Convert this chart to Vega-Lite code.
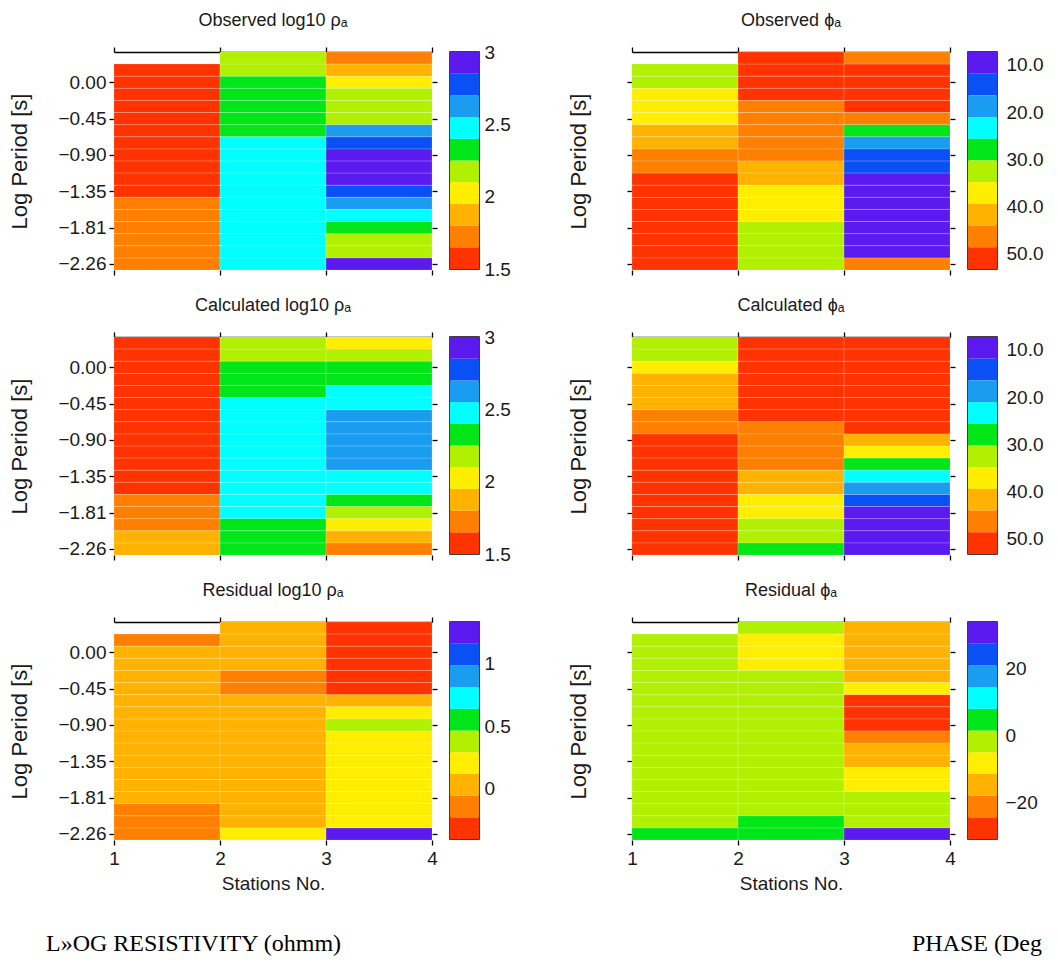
{
"$schema":"https://vega.github.io/schema/vega-lite/v6.json",
"autosize":{"type":"pad"},
"padding":{"left":8,"top":12,"right":5,"bottom":5},
"background":"white",
"config":{"view":{"stroke":null},"font":"Liberation Sans",
"axis":{"labelFont":"Liberation Sans","titleFont":"Liberation Sans","labelFontSize":19,"titleFontSize":19,"titleFontWeight":"normal","labelColor":"#1a1a1a","titleColor":"#1a1a1a","tickColor":"#000","tickWidth":1.3,"domainColor":"#000","grid":false,"labelFlush":false,"labelOverlap":false},
"axisLeft":{"titleFontSize":22},
"title":{"font":"Liberation Sans","fontSize":18,"fontWeight":"normal","color":"#1a1a1a"}},
"resolve":{"scale":{"color":"independent"}},
"datasets":{
"periods":[{"t":0.301,"lo":0.2258,"hi":0.3763},{"t":0.151,"lo":0.0753,"hi":0.2258},{"t":0,"lo":-0.0753,"hi":0.0753},{"t":-0.151,"lo":-0.2258,"hi":-0.0753},{"t":-0.301,"lo":-0.3763,"hi":-0.2258},{"t":-0.452,"lo":-0.5268,"hi":-0.3763},{"t":-0.602,"lo":-0.6773,"hi":-0.5268},{"t":-0.753,"lo":-0.8278,"hi":-0.6773},{"t":-0.903,"lo":-0.9784,"hi":-0.8278},{"t":-1.054,"lo":-1.1289,"hi":-0.9784},{"t":-1.204,"lo":-1.2794,"hi":-1.1289},{"t":-1.355,"lo":-1.4299,"hi":-1.2794},{"t":-1.505,"lo":-1.5804,"hi":-1.4299},{"t":-1.656,"lo":-1.7309,"hi":-1.5804},{"t":-1.806,"lo":-1.8815,"hi":-1.7309},{"t":-1.957,"lo":-2.032,"hi":-1.8815},{"t":-2.107,"lo":-2.1825,"hi":-2.032},{"t":-2.258,"lo":-2.333,"hi":-2.1825}],
"stations":[{"s":1,"e":2},{"s":2,"e":3},{"s":3,"e":4}],
"obsRho":[
{"s":1,"t":0.151,"v":1.57},{"s":1,"t":0,"v":1.57},{"s":1,"t":-0.151,"v":1.57},{"s":1,"t":-0.301,"v":1.57},{"s":1,"t":-0.452,"v":1.57},{"s":1,"t":-0.602,"v":1.57},{"s":1,"t":-0.753,"v":1.57},{"s":1,"t":-0.903,"v":1.57},{"s":1,"t":-1.054,"v":1.57},{"s":1,"t":-1.204,"v":1.57},{"s":1,"t":-1.355,"v":1.57},{"s":1,"t":-1.505,"v":1.72},{"s":1,"t":-1.656,"v":1.72},{"s":1,"t":-1.806,"v":1.72},{"s":1,"t":-1.957,"v":1.72},{"s":1,"t":-2.107,"v":1.72},{"s":1,"t":-2.258,"v":1.72},
{"s":2,"t":0.301,"v":2.17},{"s":2,"t":0.151,"v":2.17},{"s":2,"t":0,"v":2.32},{"s":2,"t":-0.151,"v":2.32},{"s":2,"t":-0.301,"v":2.32},{"s":2,"t":-0.452,"v":2.32},{"s":2,"t":-0.602,"v":2.32},{"s":2,"t":-0.753,"v":2.47},{"s":2,"t":-0.903,"v":2.47},{"s":2,"t":-1.054,"v":2.47},{"s":2,"t":-1.204,"v":2.47},{"s":2,"t":-1.355,"v":2.47},{"s":2,"t":-1.505,"v":2.47},{"s":2,"t":-1.656,"v":2.47},{"s":2,"t":-1.806,"v":2.47},{"s":2,"t":-1.957,"v":2.47},{"s":2,"t":-2.107,"v":2.47},{"s":2,"t":-2.258,"v":2.47},
{"s":3,"t":0.301,"v":1.72},{"s":3,"t":0.151,"v":1.87},{"s":3,"t":0,"v":2.02},{"s":3,"t":-0.151,"v":2.17},{"s":3,"t":-0.301,"v":2.17},{"s":3,"t":-0.452,"v":2.17},{"s":3,"t":-0.602,"v":2.62},{"s":3,"t":-0.753,"v":2.77},{"s":3,"t":-0.903,"v":2.92},{"s":3,"t":-1.054,"v":2.92},{"s":3,"t":-1.204,"v":2.92},{"s":3,"t":-1.355,"v":2.77},{"s":3,"t":-1.505,"v":2.62},{"s":3,"t":-1.656,"v":2.47},{"s":3,"t":-1.806,"v":2.32},{"s":3,"t":-1.957,"v":2.17},{"s":3,"t":-2.107,"v":2.17},{"s":3,"t":-2.258,"v":2.92}],
"obsPhi":[
{"s":1,"t":0.151,"v":32.5},{"s":1,"t":0,"v":32.5},{"s":1,"t":-0.151,"v":37.1},{"s":1,"t":-0.301,"v":37.1},{"s":1,"t":-0.452,"v":37.1},{"s":1,"t":-0.602,"v":41.7},{"s":1,"t":-0.753,"v":41.7},{"s":1,"t":-0.903,"v":46.3},{"s":1,"t":-1.054,"v":46.3},{"s":1,"t":-1.204,"v":50.9},{"s":1,"t":-1.355,"v":50.9},{"s":1,"t":-1.505,"v":50.9},{"s":1,"t":-1.656,"v":50.9},{"s":1,"t":-1.806,"v":50.9},{"s":1,"t":-1.957,"v":50.9},{"s":1,"t":-2.107,"v":50.9},{"s":1,"t":-2.258,"v":50.9},
{"s":2,"t":0.301,"v":50.9},{"s":2,"t":0.151,"v":50.9},{"s":2,"t":0,"v":50.9},{"s":2,"t":-0.151,"v":50.9},{"s":2,"t":-0.301,"v":46.3},{"s":2,"t":-0.452,"v":46.3},{"s":2,"t":-0.602,"v":46.3},{"s":2,"t":-0.753,"v":46.3},{"s":2,"t":-0.903,"v":46.3},{"s":2,"t":-1.054,"v":41.7},{"s":2,"t":-1.204,"v":41.7},{"s":2,"t":-1.355,"v":37.1},{"s":2,"t":-1.505,"v":37.1},{"s":2,"t":-1.656,"v":37.1},{"s":2,"t":-1.806,"v":32.5},{"s":2,"t":-1.957,"v":32.5},{"s":2,"t":-2.107,"v":32.5},{"s":2,"t":-2.258,"v":32.5},
{"s":3,"t":0.301,"v":46.3},{"s":3,"t":0.151,"v":50.9},{"s":3,"t":0,"v":50.9},{"s":3,"t":-0.151,"v":50.9},{"s":3,"t":-0.301,"v":50.9},{"s":3,"t":-0.452,"v":46.3},{"s":3,"t":-0.602,"v":27.9},{"s":3,"t":-0.753,"v":18.8},{"s":3,"t":-0.903,"v":14.2},{"s":3,"t":-1.054,"v":14.2},{"s":3,"t":-1.204,"v":9.6},{"s":3,"t":-1.355,"v":9.6},{"s":3,"t":-1.505,"v":9.6},{"s":3,"t":-1.656,"v":9.6},{"s":3,"t":-1.806,"v":9.6},{"s":3,"t":-1.957,"v":9.6},{"s":3,"t":-2.107,"v":9.6},{"s":3,"t":-2.258,"v":46.3}],
"calRho":[
{"s":1,"t":0.301,"v":1.57},{"s":1,"t":0.151,"v":1.57},{"s":1,"t":0,"v":1.57},{"s":1,"t":-0.151,"v":1.57},{"s":1,"t":-0.301,"v":1.57},{"s":1,"t":-0.452,"v":1.57},{"s":1,"t":-0.602,"v":1.57},{"s":1,"t":-0.753,"v":1.57},{"s":1,"t":-0.903,"v":1.57},{"s":1,"t":-1.054,"v":1.57},{"s":1,"t":-1.204,"v":1.57},{"s":1,"t":-1.355,"v":1.57},{"s":1,"t":-1.505,"v":1.57},{"s":1,"t":-1.656,"v":1.72},{"s":1,"t":-1.806,"v":1.72},{"s":1,"t":-1.957,"v":1.72},{"s":1,"t":-2.107,"v":1.87},{"s":1,"t":-2.258,"v":1.87},
{"s":2,"t":0.301,"v":2.17},{"s":2,"t":0.151,"v":2.17},{"s":2,"t":0,"v":2.32},{"s":2,"t":-0.151,"v":2.32},{"s":2,"t":-0.301,"v":2.32},{"s":2,"t":-0.452,"v":2.47},{"s":2,"t":-0.602,"v":2.47},{"s":2,"t":-0.753,"v":2.47},{"s":2,"t":-0.903,"v":2.47},{"s":2,"t":-1.054,"v":2.47},{"s":2,"t":-1.204,"v":2.47},{"s":2,"t":-1.355,"v":2.47},{"s":2,"t":-1.505,"v":2.47},{"s":2,"t":-1.656,"v":2.47},{"s":2,"t":-1.806,"v":2.47},{"s":2,"t":-1.957,"v":2.32},{"s":2,"t":-2.107,"v":2.32},{"s":2,"t":-2.258,"v":2.32},
{"s":3,"t":0.301,"v":2.02},{"s":3,"t":0.151,"v":2.17},{"s":3,"t":0,"v":2.32},{"s":3,"t":-0.151,"v":2.32},{"s":3,"t":-0.301,"v":2.47},{"s":3,"t":-0.452,"v":2.47},{"s":3,"t":-0.602,"v":2.62},{"s":3,"t":-0.753,"v":2.62},{"s":3,"t":-0.903,"v":2.62},{"s":3,"t":-1.054,"v":2.62},{"s":3,"t":-1.204,"v":2.62},{"s":3,"t":-1.355,"v":2.47},{"s":3,"t":-1.505,"v":2.47},{"s":3,"t":-1.656,"v":2.32},{"s":3,"t":-1.806,"v":2.17},{"s":3,"t":-1.957,"v":2.02},{"s":3,"t":-2.107,"v":1.87},{"s":3,"t":-2.258,"v":1.72}],
"calPhi":[
{"s":1,"t":0.301,"v":32.5},{"s":1,"t":0.151,"v":32.5},{"s":1,"t":0,"v":37.1},{"s":1,"t":-0.151,"v":41.7},{"s":1,"t":-0.301,"v":41.7},{"s":1,"t":-0.452,"v":41.7},{"s":1,"t":-0.602,"v":46.3},{"s":1,"t":-0.753,"v":46.3},{"s":1,"t":-0.903,"v":50.9},{"s":1,"t":-1.054,"v":50.9},{"s":1,"t":-1.204,"v":50.9},{"s":1,"t":-1.355,"v":50.9},{"s":1,"t":-1.505,"v":50.9},{"s":1,"t":-1.656,"v":50.9},{"s":1,"t":-1.806,"v":50.9},{"s":1,"t":-1.957,"v":50.9},{"s":1,"t":-2.107,"v":50.9},{"s":1,"t":-2.258,"v":50.9},
{"s":2,"t":0.301,"v":50.9},{"s":2,"t":0.151,"v":50.9},{"s":2,"t":0,"v":50.9},{"s":2,"t":-0.151,"v":50.9},{"s":2,"t":-0.301,"v":50.9},{"s":2,"t":-0.452,"v":50.9},{"s":2,"t":-0.602,"v":50.9},{"s":2,"t":-0.753,"v":46.3},{"s":2,"t":-0.903,"v":46.3},{"s":2,"t":-1.054,"v":46.3},{"s":2,"t":-1.204,"v":46.3},{"s":2,"t":-1.355,"v":41.7},{"s":2,"t":-1.505,"v":41.7},{"s":2,"t":-1.656,"v":37.1},{"s":2,"t":-1.806,"v":37.1},{"s":2,"t":-1.957,"v":32.5},{"s":2,"t":-2.107,"v":32.5},{"s":2,"t":-2.258,"v":27.9},
{"s":3,"t":0.301,"v":50.9},{"s":3,"t":0.151,"v":50.9},{"s":3,"t":0,"v":50.9},{"s":3,"t":-0.151,"v":50.9},{"s":3,"t":-0.301,"v":50.9},{"s":3,"t":-0.452,"v":50.9},{"s":3,"t":-0.602,"v":50.9},{"s":3,"t":-0.753,"v":50.9},{"s":3,"t":-0.903,"v":41.7},{"s":3,"t":-1.054,"v":37.1},{"s":3,"t":-1.204,"v":27.9},{"s":3,"t":-1.355,"v":23.4},{"s":3,"t":-1.505,"v":18.8},{"s":3,"t":-1.656,"v":14.2},{"s":3,"t":-1.806,"v":9.6},{"s":3,"t":-1.957,"v":9.6},{"s":3,"t":-2.107,"v":9.6},{"s":3,"t":-2.258,"v":9.6}],
"resRho":[
{"s":1,"t":0.151,"v":-0.14},{"s":1,"t":0,"v":0.03},{"s":1,"t":-0.151,"v":0.03},{"s":1,"t":-0.301,"v":0.03},{"s":1,"t":-0.452,"v":0.03},{"s":1,"t":-0.602,"v":0.03},{"s":1,"t":-0.753,"v":0.03},{"s":1,"t":-0.903,"v":0.03},{"s":1,"t":-1.054,"v":0.03},{"s":1,"t":-1.204,"v":0.03},{"s":1,"t":-1.355,"v":0.03},{"s":1,"t":-1.505,"v":0.03},{"s":1,"t":-1.656,"v":0.03},{"s":1,"t":-1.806,"v":0.03},{"s":1,"t":-1.957,"v":-0.14},{"s":1,"t":-2.107,"v":-0.14},{"s":1,"t":-2.258,"v":-0.14},
{"s":2,"t":0.301,"v":0.03},{"s":2,"t":0.151,"v":0.03},{"s":2,"t":0,"v":0.03},{"s":2,"t":-0.151,"v":0.03},{"s":2,"t":-0.301,"v":-0.14},{"s":2,"t":-0.452,"v":-0.14},{"s":2,"t":-0.602,"v":0.03},{"s":2,"t":-0.753,"v":0.03},{"s":2,"t":-0.903,"v":0.03},{"s":2,"t":-1.054,"v":0.03},{"s":2,"t":-1.204,"v":0.03},{"s":2,"t":-1.355,"v":0.03},{"s":2,"t":-1.505,"v":0.03},{"s":2,"t":-1.656,"v":0.03},{"s":2,"t":-1.806,"v":0.03},{"s":2,"t":-1.957,"v":0.03},{"s":2,"t":-2.107,"v":0.03},{"s":2,"t":-2.258,"v":0.21},
{"s":3,"t":0.301,"v":-0.31},{"s":3,"t":0.151,"v":-0.31},{"s":3,"t":0,"v":-0.31},{"s":3,"t":-0.151,"v":-0.31},{"s":3,"t":-0.301,"v":-0.31},{"s":3,"t":-0.452,"v":-0.31},{"s":3,"t":-0.602,"v":0.03},{"s":3,"t":-0.753,"v":0.21},{"s":3,"t":-0.903,"v":0.38},{"s":3,"t":-1.054,"v":0.21},{"s":3,"t":-1.204,"v":0.21},{"s":3,"t":-1.355,"v":0.21},{"s":3,"t":-1.505,"v":0.21},{"s":3,"t":-1.656,"v":0.21},{"s":3,"t":-1.806,"v":0.21},{"s":3,"t":-1.957,"v":0.21},{"s":3,"t":-2.107,"v":0.21},{"s":3,"t":-2.258,"v":1.24}],
"resPhi":[
{"s":1,"t":0.151,"v":-1.8},{"s":1,"t":0,"v":-1.8},{"s":1,"t":-0.151,"v":-1.8},{"s":1,"t":-0.301,"v":-1.8},{"s":1,"t":-0.452,"v":-1.8},{"s":1,"t":-0.602,"v":-1.8},{"s":1,"t":-0.753,"v":-1.8},{"s":1,"t":-0.903,"v":-1.8},{"s":1,"t":-1.054,"v":-1.8},{"s":1,"t":-1.204,"v":-1.8},{"s":1,"t":-1.355,"v":-1.8},{"s":1,"t":-1.505,"v":-1.8},{"s":1,"t":-1.656,"v":-1.8},{"s":1,"t":-1.806,"v":-1.8},{"s":1,"t":-1.957,"v":-1.8},{"s":1,"t":-2.107,"v":-1.8},{"s":1,"t":-2.258,"v":4.8},
{"s":2,"t":0.301,"v":-1.8},{"s":2,"t":0.151,"v":-8.2},{"s":2,"t":0,"v":-8.2},{"s":2,"t":-0.151,"v":-8.2},{"s":2,"t":-0.301,"v":-1.8},{"s":2,"t":-0.452,"v":-1.8},{"s":2,"t":-0.602,"v":-1.8},{"s":2,"t":-0.753,"v":-1.8},{"s":2,"t":-0.903,"v":-1.8},{"s":2,"t":-1.054,"v":-1.8},{"s":2,"t":-1.204,"v":-1.8},{"s":2,"t":-1.355,"v":-1.8},{"s":2,"t":-1.505,"v":-1.8},{"s":2,"t":-1.656,"v":-1.8},{"s":2,"t":-1.806,"v":-1.8},{"s":2,"t":-1.957,"v":-1.8},{"s":2,"t":-2.107,"v":4.8},{"s":2,"t":-2.258,"v":4.8},
{"s":3,"t":0.301,"v":-14.8},{"s":3,"t":0.151,"v":-14.8},{"s":3,"t":0,"v":-14.8},{"s":3,"t":-0.151,"v":-14.8},{"s":3,"t":-0.301,"v":-14.8},{"s":3,"t":-0.452,"v":-8.2},{"s":3,"t":-0.602,"v":-27.8},{"s":3,"t":-0.753,"v":-27.8},{"s":3,"t":-0.903,"v":-27.8},{"s":3,"t":-1.054,"v":-21.2},{"s":3,"t":-1.204,"v":-14.8},{"s":3,"t":-1.355,"v":-14.8},{"s":3,"t":-1.505,"v":-8.2},{"s":3,"t":-1.656,"v":-8.2},{"s":3,"t":-1.806,"v":-1.8},{"s":3,"t":-1.957,"v":-1.8},{"s":3,"t":-2.107,"v":-1.8},{"s":3,"t":-2.258,"v":30.8}],
"cbRho":[{"lo":1.5,"hi":1.65,"v":1.57},{"lo":1.65,"hi":1.8,"v":1.72},{"lo":1.8,"hi":1.95,"v":1.87},{"lo":1.95,"hi":2.1,"v":2.02},{"lo":2.1,"hi":2.25,"v":2.17},{"lo":2.25,"hi":2.4,"v":2.32},{"lo":2.4,"hi":2.55,"v":2.47},{"lo":2.55,"hi":2.7,"v":2.62},{"lo":2.7,"hi":2.85,"v":2.77},{"lo":2.85,"hi":3,"v":2.92}],
"cbPhi":[{"lo":7.3,"hi":11.89,"v":9.6},{"lo":11.89,"hi":16.48,"v":14.2},{"lo":16.48,"hi":21.07,"v":18.8},{"lo":21.07,"hi":25.66,"v":23.4},{"lo":25.66,"hi":30.25,"v":27.9},{"lo":30.25,"hi":34.84,"v":32.5},{"lo":34.84,"hi":39.43,"v":37.1},{"lo":39.43,"hi":44.02,"v":41.7},{"lo":44.02,"hi":48.61,"v":46.3},{"lo":48.61,"hi":53.2,"v":50.9}],
"cbResRho":[{"lo":-0.4,"hi":-0.227,"v":-0.31},{"lo":-0.227,"hi":-0.054,"v":-0.14},{"lo":-0.054,"hi":0.119,"v":0.03},{"lo":0.119,"hi":0.292,"v":0.21},{"lo":0.292,"hi":0.465,"v":0.38},{"lo":0.465,"hi":0.638,"v":0.55},{"lo":0.638,"hi":0.811,"v":0.72},{"lo":0.811,"hi":0.984,"v":0.9},{"lo":0.984,"hi":1.157,"v":1.07},{"lo":1.157,"hi":1.33,"v":1.24}],
"cbResPhi":[{"lo":-31,"hi":-24.5,"v":-27.8},{"lo":-24.5,"hi":-18,"v":-21.2},{"lo":-18,"hi":-11.5,"v":-14.8},{"lo":-11.5,"hi":-5,"v":-8.2},{"lo":-5,"hi":1.5,"v":-1.8},{"lo":1.5,"hi":8,"v":4.8},{"lo":8,"hi":14.5,"v":11.3},{"lo":14.5,"hi":21,"v":17.8},{"lo":21,"hi":27.5,"v":24.3},{"lo":27.5,"hi":34,"v":30.8}]
},
"columns":5,
"spacing":{"row":67,"column":18},
"bounds":"flush",
"concat":[
{"width":318,"height":218,"title":{"text":"Observed log10 ρₐ","anchor":"middle","frame":"group","offset":16},
"data":{"name":"obsRho"},
"transform":[{"lookup":"t","from":{"data":{"name":"periods"},"key":"t","fields":["lo","hi"]}},{"lookup":"s","from":{"data":{"name":"stations"},"key":"s","fields":["e"]}}],
"layer":[
{"mark":{"type":"rect"},"encoding":{
"x":{"field":"s","type":"quantitative","scale":{"domain":[1,4],"nice":false,"zero":false},"axis":{"orient":"bottom","values":[1,2,3,4],"tickSize":5,"domain":false,"labels":false,"title":null}},
"x2":{"field":"e"},
"y":{"field":"lo","type":"quantitative","scale":{"domain":[-2.333,0.3763],"nice":false,"zero":false},"axis":{"orient":"left","values":[0,-0.45154,-0.90309,-1.35463,-1.80618,-2.25772],"format":".2f","tickSize":5,"domain":false,"labelPadding":3,"title":"Log Period [s]","titlePadding":26}},
"y2":{"field":"hi"},
"color":{"field":"v","type":"quantitative","scale":{"type":"quantize","domain":[1.5,3],"range":["#ff3300","#ff8000","#ffb300","#ffee00","#b0f000","#00e619","#00ffff","#1a9cf0","#0a50f5","#5a1af0"]},"legend":null}}},
{"mark":{"type":"rect","fill":"white","fillOpacity":0,"stroke":"white","strokeOpacity":0.18,"strokeWidth":0.8},"encoding":{
"x":{"field":"s","type":"quantitative","axis":{"orient":"top","values":[1,2,3,4],"tickSize":5,"labels":false,"title":null,"domain":true,"domainWidth":1.5}},
"x2":{"field":"e"},
"y":{"field":"lo","type":"quantitative","axis":{"orient":"right","values":[0,-0.45154,-0.90309,-1.35463,-1.80618,-2.25772],"tickSize":5,"labels":false,"title":null,"domain":false}},
"y2":{"field":"hi"}}}],
"resolve":{"axis":{"x":"independent","y":"independent"}}},
{"width":29,"height":217,"view":{"stroke":"#000","strokeWidth":1.5},"data":{"name":"cbRho"},"mark":{"type":"rect"},"encoding":{
"y":{"field":"lo","type":"quantitative","scale":{"domain":[1.5,3],"nice":false,"zero":false},"axis":{"orient":"right","values":[1.5,2,2.5,3],"format":"~g","ticks":false,"domain":false,"labelPadding":5,"title":null}},
"y2":{"field":"hi"},
"color":{"field":"v","type":"quantitative","scale":{"type":"quantize","domain":[1.5,3],"range":["#ff3300","#ff8000","#ffb300","#ffee00","#b0f000","#00e619","#00ffff","#1a9cf0","#0a50f5","#5a1af0"]},"legend":null}}},
{"width":117,"height":1,"data":{"values":[]},"mark":"point","encoding":{}},
{"width":318,"height":218,"title":{"text":"Observed ϕₐ","anchor":"middle","frame":"group","offset":16},
"data":{"name":"obsPhi"},
"transform":[{"lookup":"t","from":{"data":{"name":"periods"},"key":"t","fields":["lo","hi"]}},{"lookup":"s","from":{"data":{"name":"stations"},"key":"s","fields":["e"]}}],
"layer":[
{"mark":{"type":"rect"},"encoding":{
"x":{"field":"s","type":"quantitative","scale":{"domain":[1,4],"nice":false,"zero":false},"axis":{"orient":"bottom","values":[1,2,3,4],"tickSize":5,"domain":false,"labels":false,"title":null}},
"x2":{"field":"e"},
"y":{"field":"lo","type":"quantitative","scale":{"domain":[-2.333,0.3763],"nice":false,"zero":false},"axis":{"orient":"left","values":[0,-0.45154,-0.90309,-1.35463,-1.80618,-2.25772],"tickSize":5,"domain":false,"labels":false,"title":"Log Period [s]","titlePadding":36}},
"y2":{"field":"hi"},
"color":{"field":"v","type":"quantitative","scale":{"type":"quantize","domain":[7.3,53.2],"range":["#5a1af0","#0a50f5","#1a9cf0","#00ffff","#00e619","#b0f000","#ffee00","#ffb300","#ff8000","#ff3300"]},"legend":null}}},
{"mark":{"type":"rect","fill":"white","fillOpacity":0,"stroke":"white","strokeOpacity":0.18,"strokeWidth":0.8},"encoding":{
"x":{"field":"s","type":"quantitative","axis":{"orient":"top","values":[1,2,3,4],"tickSize":5,"labels":false,"title":null,"domain":true,"domainWidth":1.5}},
"x2":{"field":"e"},
"y":{"field":"lo","type":"quantitative","axis":{"orient":"right","values":[0,-0.45154,-0.90309,-1.35463,-1.80618,-2.25772],"tickSize":5,"labels":false,"title":null,"domain":false}},
"y2":{"field":"hi"}}}],
"resolve":{"axis":{"x":"independent","y":"independent"}}},
{"width":29,"height":217,"view":{"stroke":"#000","strokeWidth":1.5},"data":{"name":"cbPhi"},"mark":{"type":"rect"},"encoding":{
"y":{"field":"lo","type":"quantitative","scale":{"domain":[7.3,53.2],"nice":false,"zero":false,"reverse":true},"axis":{"orient":"right","values":[10,20,30,40,50],"format":".1f","ticks":false,"domain":false,"labelPadding":9,"title":null}},
"y2":{"field":"hi"},
"color":{"field":"v","type":"quantitative","scale":{"type":"quantize","domain":[7.3,53.2],"range":["#5a1af0","#0a50f5","#1a9cf0","#00ffff","#00e619","#b0f000","#ffee00","#ffb300","#ff8000","#ff3300"]},"legend":null}}},

{"width":318,"height":218,"title":{"text":"Calculated log10 ρₐ","anchor":"middle","frame":"group","offset":16},
"data":{"name":"calRho"},
"transform":[{"lookup":"t","from":{"data":{"name":"periods"},"key":"t","fields":["lo","hi"]}},{"lookup":"s","from":{"data":{"name":"stations"},"key":"s","fields":["e"]}}],
"layer":[
{"mark":{"type":"rect"},"encoding":{
"x":{"field":"s","type":"quantitative","scale":{"domain":[1,4],"nice":false,"zero":false},"axis":{"orient":"bottom","values":[1,2,3,4],"tickSize":5,"domain":false,"labels":false,"title":null}},
"x2":{"field":"e"},
"y":{"field":"lo","type":"quantitative","scale":{"domain":[-2.333,0.3763],"nice":false,"zero":false},"axis":{"orient":"left","values":[0,-0.45154,-0.90309,-1.35463,-1.80618,-2.25772],"format":".2f","tickSize":5,"domain":false,"labelPadding":3,"title":"Log Period [s]","titlePadding":26}},
"y2":{"field":"hi"},
"color":{"field":"v","type":"quantitative","scale":{"type":"quantize","domain":[1.5,3],"range":["#ff3300","#ff8000","#ffb300","#ffee00","#b0f000","#00e619","#00ffff","#1a9cf0","#0a50f5","#5a1af0"]},"legend":null}}},
{"mark":{"type":"rect","fill":"white","fillOpacity":0,"stroke":"white","strokeOpacity":0.18,"strokeWidth":0.8},"encoding":{
"x":{"field":"s","type":"quantitative","axis":{"orient":"top","values":[1,2,3,4],"tickSize":5,"labels":false,"title":null,"domain":true,"domainWidth":1.5}},
"x2":{"field":"e"},
"y":{"field":"lo","type":"quantitative","axis":{"orient":"right","values":[0,-0.45154,-0.90309,-1.35463,-1.80618,-2.25772],"tickSize":5,"labels":false,"title":null,"domain":false}},
"y2":{"field":"hi"}}}],
"resolve":{"axis":{"x":"independent","y":"independent"}}},
{"width":29,"height":217,"view":{"stroke":"#000","strokeWidth":1.5},"data":{"name":"cbRho"},"mark":{"type":"rect"},"encoding":{
"y":{"field":"lo","type":"quantitative","scale":{"domain":[1.5,3],"nice":false,"zero":false},"axis":{"orient":"right","values":[1.5,2,2.5,3],"format":"~g","ticks":false,"domain":false,"labelPadding":5,"title":null}},
"y2":{"field":"hi"},
"color":{"field":"v","type":"quantitative","scale":{"type":"quantize","domain":[1.5,3],"range":["#ff3300","#ff8000","#ffb300","#ffee00","#b0f000","#00e619","#00ffff","#1a9cf0","#0a50f5","#5a1af0"]},"legend":null}}},
{"width":117,"height":1,"data":{"values":[]},"mark":"point","encoding":{}},
{"width":318,"height":218,"title":{"text":"Calculated ϕₐ","anchor":"middle","frame":"group","offset":16},
"data":{"name":"calPhi"},
"transform":[{"lookup":"t","from":{"data":{"name":"periods"},"key":"t","fields":["lo","hi"]}},{"lookup":"s","from":{"data":{"name":"stations"},"key":"s","fields":["e"]}}],
"layer":[
{"mark":{"type":"rect"},"encoding":{
"x":{"field":"s","type":"quantitative","scale":{"domain":[1,4],"nice":false,"zero":false},"axis":{"orient":"bottom","values":[1,2,3,4],"tickSize":5,"domain":false,"labels":false,"title":null}},
"x2":{"field":"e"},
"y":{"field":"lo","type":"quantitative","scale":{"domain":[-2.333,0.3763],"nice":false,"zero":false},"axis":{"orient":"left","values":[0,-0.45154,-0.90309,-1.35463,-1.80618,-2.25772],"tickSize":5,"domain":false,"labels":false,"title":"Log Period [s]","titlePadding":36}},
"y2":{"field":"hi"},
"color":{"field":"v","type":"quantitative","scale":{"type":"quantize","domain":[7.3,53.2],"range":["#5a1af0","#0a50f5","#1a9cf0","#00ffff","#00e619","#b0f000","#ffee00","#ffb300","#ff8000","#ff3300"]},"legend":null}}},
{"mark":{"type":"rect","fill":"white","fillOpacity":0,"stroke":"white","strokeOpacity":0.18,"strokeWidth":0.8},"encoding":{
"x":{"field":"s","type":"quantitative","axis":{"orient":"top","values":[1,2,3,4],"tickSize":5,"labels":false,"title":null,"domain":true,"domainWidth":1.5}},
"x2":{"field":"e"},
"y":{"field":"lo","type":"quantitative","axis":{"orient":"right","values":[0,-0.45154,-0.90309,-1.35463,-1.80618,-2.25772],"tickSize":5,"labels":false,"title":null,"domain":false}},
"y2":{"field":"hi"}}}],
"resolve":{"axis":{"x":"independent","y":"independent"}}},
{"width":29,"height":217,"view":{"stroke":"#000","strokeWidth":1.5},"data":{"name":"cbPhi"},"mark":{"type":"rect"},"encoding":{
"y":{"field":"lo","type":"quantitative","scale":{"domain":[7.3,53.2],"nice":false,"zero":false,"reverse":true},"axis":{"orient":"right","values":[10,20,30,40,50],"format":".1f","ticks":false,"domain":false,"labelPadding":9,"title":null}},
"y2":{"field":"hi"},
"color":{"field":"v","type":"quantitative","scale":{"type":"quantize","domain":[7.3,53.2],"range":["#5a1af0","#0a50f5","#1a9cf0","#00ffff","#00e619","#b0f000","#ffee00","#ffb300","#ff8000","#ff3300"]},"legend":null}}},

{"width":318,"height":218,"title":{"text":"Residual log10 ρₐ","anchor":"middle","frame":"group","offset":16},
"data":{"name":"resRho"},
"transform":[{"lookup":"t","from":{"data":{"name":"periods"},"key":"t","fields":["lo","hi"]}},{"lookup":"s","from":{"data":{"name":"stations"},"key":"s","fields":["e"]}}],
"layer":[
{"mark":{"type":"rect"},"encoding":{
"x":{"field":"s","type":"quantitative","scale":{"domain":[1,4],"nice":false,"zero":false},"axis":{"orient":"bottom","values":[1,2,3,4],"format":"d","tickSize":5,"domain":false,"labels":true,"labelPadding":4,"title":"Stations No.","titlePadding":6}},
"x2":{"field":"e"},
"y":{"field":"lo","type":"quantitative","scale":{"domain":[-2.333,0.3763],"nice":false,"zero":false},"axis":{"orient":"left","values":[0,-0.45154,-0.90309,-1.35463,-1.80618,-2.25772],"format":".2f","tickSize":5,"domain":false,"labelPadding":3,"title":"Log Period [s]","titlePadding":26}},
"y2":{"field":"hi"},
"color":{"field":"v","type":"quantitative","scale":{"type":"quantize","domain":[-0.4,1.33],"range":["#ff3300","#ff8000","#ffb300","#ffee00","#b0f000","#00e619","#00ffff","#1a9cf0","#0a50f5","#5a1af0"]},"legend":null}}},
{"mark":{"type":"rect","fill":"white","fillOpacity":0,"stroke":"white","strokeOpacity":0.18,"strokeWidth":0.8},"encoding":{
"x":{"field":"s","type":"quantitative","axis":{"orient":"top","values":[1,2,3,4],"tickSize":5,"labels":false,"title":null,"domain":true,"domainWidth":1.5}},
"x2":{"field":"e"},
"y":{"field":"lo","type":"quantitative","axis":{"orient":"right","values":[0,-0.45154,-0.90309,-1.35463,-1.80618,-2.25772],"tickSize":5,"labels":false,"title":null,"domain":false}},
"y2":{"field":"hi"}}}],
"resolve":{"axis":{"x":"independent","y":"independent"}}},
{"width":29,"height":217,"view":{"stroke":"#000","strokeWidth":1.5},"data":{"name":"cbResRho"},"mark":{"type":"rect"},"encoding":{
"y":{"field":"lo","type":"quantitative","scale":{"domain":[-0.4,1.33],"nice":false,"zero":false},"axis":{"orient":"right","values":[0,0.5,1],"format":"~g","ticks":false,"domain":false,"labelPadding":5,"title":null}},
"y2":{"field":"hi"},
"color":{"field":"v","type":"quantitative","scale":{"type":"quantize","domain":[-0.4,1.33],"range":["#ff3300","#ff8000","#ffb300","#ffee00","#b0f000","#00e619","#00ffff","#1a9cf0","#0a50f5","#5a1af0"]},"legend":null}}},
{"width":117,"height":1,"data":{"values":[]},"mark":"point","encoding":{}},
{"width":318,"height":218,"title":{"text":"Residual ϕₐ","anchor":"middle","frame":"group","offset":16},
"data":{"name":"resPhi"},
"transform":[{"lookup":"t","from":{"data":{"name":"periods"},"key":"t","fields":["lo","hi"]}},{"lookup":"s","from":{"data":{"name":"stations"},"key":"s","fields":["e"]}}],
"layer":[
{"mark":{"type":"rect"},"encoding":{
"x":{"field":"s","type":"quantitative","scale":{"domain":[1,4],"nice":false,"zero":false},"axis":{"orient":"bottom","values":[1,2,3,4],"format":"d","tickSize":5,"domain":false,"labels":true,"labelPadding":4,"title":"Stations No.","titlePadding":6}},
"x2":{"field":"e"},
"y":{"field":"lo","type":"quantitative","scale":{"domain":[-2.333,0.3763],"nice":false,"zero":false},"axis":{"orient":"left","values":[0,-0.45154,-0.90309,-1.35463,-1.80618,-2.25772],"tickSize":5,"domain":false,"labels":false,"title":"Log Period [s]","titlePadding":36}},
"y2":{"field":"hi"},
"color":{"field":"v","type":"quantitative","scale":{"type":"quantize","domain":[-31,34],"range":["#ff3300","#ff8000","#ffb300","#ffee00","#b0f000","#00e619","#00ffff","#1a9cf0","#0a50f5","#5a1af0"]},"legend":null}}},
{"mark":{"type":"rect","fill":"white","fillOpacity":0,"stroke":"white","strokeOpacity":0.18,"strokeWidth":0.8},"encoding":{
"x":{"field":"s","type":"quantitative","axis":{"orient":"top","values":[1,2,3,4],"tickSize":5,"labels":false,"title":null,"domain":true,"domainWidth":1.5}},
"x2":{"field":"e"},
"y":{"field":"lo","type":"quantitative","axis":{"orient":"right","values":[0,-0.45154,-0.90309,-1.35463,-1.80618,-2.25772],"tickSize":5,"labels":false,"title":null,"domain":false}},
"y2":{"field":"hi"}}}],
"resolve":{"axis":{"x":"independent","y":"independent"}}},
{"width":29,"height":217,"view":{"stroke":"#000","strokeWidth":1.5},"data":{"name":"cbResPhi"},"mark":{"type":"rect"},"encoding":{
"y":{"field":"lo","type":"quantitative","scale":{"domain":[-31,34],"nice":false,"zero":false},"axis":{"orient":"right","values":[-20,0,20],"format":"d","ticks":false,"domain":false,"labelPadding":8,"title":null}},
"y2":{"field":"hi"},
"color":{"field":"v","type":"quantitative","scale":{"type":"quantize","domain":[-31,34],"range":["#ff3300","#ff8000","#ffb300","#ffee00","#b0f000","#00e619","#00ffff","#1a9cf0","#0a50f5","#5a1af0"]},"legend":null}}},

{"width":318,"height":1,"data":{"values":[]},"mark":"point","encoding":{},"title":{"text":"L»OG RESISTIVITY (ohmm)","orient":"bottom","anchor":"start","frame":"group","dx":-68,"offset":24,"font":"Liberation Serif","fontSize":24,"color":"#000","fontWeight":"normal"}},
{"width":29,"height":1,"data":{"values":[]},"mark":"point","encoding":{}},
{"width":117,"height":1,"data":{"values":[]},"mark":"point","encoding":{}},
{"width":318,"height":1,"data":{"values":[]},"mark":"point","encoding":{},"title":{"text":"PHASE (Deg","orient":"bottom","anchor":"start","frame":"group","dx":280,"offset":24,"font":"Liberation Serif","fontSize":24,"color":"#000","fontWeight":"normal"}}
]
}
